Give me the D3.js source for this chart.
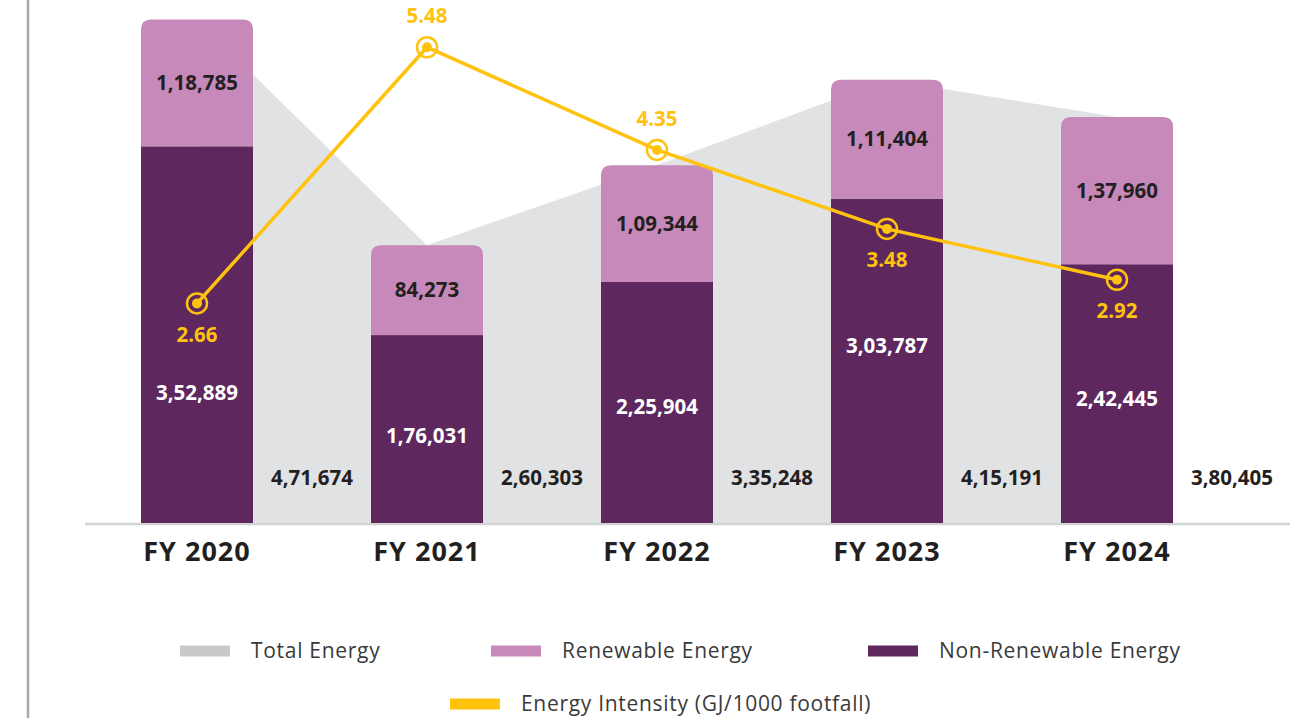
<!DOCTYPE html>
<html>
<head>
<meta charset="utf-8">
<script src="https://cdn.jsdelivr.net/npm/d3@7"></script>
<style>
  body { margin: 0; background: #fff; }
  text { font-family: "Open Sans", "DejaVu Sans", sans-serif; }
</style>
</head>
<body>
<div id="chart"></div>
<script>
// chart data
var years = ["FY 2020", "FY 2021", "FY 2022", "FY 2023", "FY 2024"];
var renewable = [118785, 84273, 109344, 111404, 137960];
var nonRenewable = [352889, 176031, 225904, 303787, 242445];
var totalEnergy = [471674, 260303, 335248, 415191, 380405];
var intensity = [2.66, 5.48, 4.35, 3.48, 2.92];

// where the intensity label sits: above (-1) or below (1) the point
var intensitySide = [1, -1, -1, 1, 1];

var svgWidth = 1290, svgHeight = 718;
var baseY = 523;

var colors = {
  total: "#e1e2e4",
  renewable: "#c689ba",
  nonRenewable: "#5e275d",
  intensity: "#ffc20e",
  text: "#231f20"
};

var svg = d3.select("#chart")
  .append("svg")
  .attr("width", svgWidth)
  .attr("height", svgHeight);

// scales
var xScale = d3.scaleBand()
  .domain(years)
  .range([82, 1232])
  .paddingInner(0.513)
  .paddingOuter(0.2565);

var yScale = d3.scaleLinear()
  .domain([0, 490000])
  .range([baseY, 0]);

var y2Scale = d3.scaleLinear()
  .domain([0, 6])
  .range([545, 0]);

var bw = xScale.bandwidth();
var cx = d => xScale(d) + bw / 2;

var rows = years.map((y, i) => ({
  year: y,
  ren: renewable[i],
  non: nonRenewable[i],
  total: totalEnergy[i],
  inten: intensity[i],
  side: intensitySide[i]
}));

// indian digit grouping, e.g. 4,71,674
function indian(v) {
  var s = String(v);
  var last3 = s.slice(-3), rest = s.slice(0, -3);
  if (!rest) return last3;
  return rest.replace(/\B(?=(\d{2})+(?!\d))/g, ",") + "," + last3;
}

// left border line
svg.append("line")
  .attr("x1", 28).attr("x2", 28)
  .attr("y1", 0).attr("y2", svgHeight)
  .attr("stroke", "#a7a9ac")
  .attr("stroke-width", 2.5);

// total energy area behind the bars
var area = d3.area()
  .x(d => cx(d.year))
  .y0(baseY)
  .y1(d => yScale(d.total));

svg.append("path")
  .datum(rows)
  .attr("d", area)
  .attr("fill", colors.total);

// baseline
svg.append("line")
  .attr("x1", 85).attr("x2", svgWidth)
  .attr("y1", baseY + 1).attr("y2", baseY + 1)
  .attr("stroke", "#d1d3d4")
  .attr("stroke-width", 2.5);

// non-renewable segment
svg.selectAll(".nonren")
  .data(rows)
  .enter()
  .append("rect")
  .attr("class", "nonren")
  .attr("x", d => xScale(d.year))
  .attr("y", d => yScale(d.non))
  .attr("width", bw)
  .attr("height", d => baseY - yScale(d.non))
  .attr("fill", colors.nonRenewable);

// renewable segment with rounded top
var r = 10;
svg.selectAll(".ren")
  .data(rows)
  .enter()
  .append("path")
  .attr("class", "ren")
  .attr("d", function(d) {
    var x0 = xScale(d.year), x1 = x0 + bw;
    var yt = yScale(d.non + d.ren), yb = yScale(d.non);
    return `M${x0},${yb} L${x0},${yt + r} Q${x0},${yt} ${x0 + r},${yt}` +
      ` L${x1 - r},${yt} Q${x1},${yt} ${x1},${yt + r} L${x1},${yb} Z`;
  })
  .attr("fill", colors.renewable);

var labelSize = 20.5;

// renewable labels
svg.selectAll(".renLabel")
  .data(rows)
  .enter()
  .append("text")
  .attr("x", d => cx(d.year))
  .attr("y", d => (yScale(d.non + d.ren) + yScale(d.non)) / 2)
  .attr("dy", "0.35em")
  .attr("text-anchor", "middle")
  .attr("font-size", labelSize)
  .attr("font-weight", 700)
  .attr("fill", colors.text)
  .text(d => indian(d.ren));

// non-renewable labels, the first nudged down to clear the intensity label
var nonShift = [58, 7, 4, -15, 5];
svg.selectAll(".nonLabel")
  .data(rows)
  .enter()
  .append("text")
  .attr("x", d => cx(d.year))
  .attr("y", (d, i) => (yScale(d.non) + baseY) / 2 + nonShift[i])
  .attr("dy", "0.35em")
  .attr("text-anchor", "middle")
  .attr("font-size", labelSize)
  .attr("font-weight", 700)
  .attr("fill", "#ffffff")
  .text(d => indian(d.non));

// total labels
svg.selectAll(".totLabel")
  .data(rows)
  .enter()
  .append("text")
  .attr("x", d => cx(d.year) + 115)
  .attr("y", 478)
  .attr("dy", "0.35em")
  .attr("text-anchor", "middle")
  .attr("font-size", labelSize)
  .attr("font-weight", 700)
  .attr("fill", colors.text)
  .text(d => indian(d.total));

// energy intensity line
var line = d3.line()
  .x(d => cx(d.year))
  .y(d => y2Scale(d.inten));

svg.append("path")
  .datum(rows)
  .attr("d", line)
  .attr("fill", "none")
  .attr("stroke", colors.intensity)
  .attr("stroke-width", 3.5);

var marks = svg.selectAll(".mark")
  .data(rows)
  .enter()
  .append("g")
  .attr("transform", d => `translate(${cx(d.year)},${y2Scale(d.inten)})`);

marks.append("circle")
  .attr("r", 10)
  .attr("fill", "none")
  .attr("stroke", colors.intensity)
  .attr("stroke-width", 2.5);

marks.append("circle")
  .attr("r", 5)
  .attr("fill", colors.intensity);

marks.append("text")
  .attr("y", d => d.side * 31)
  .attr("dy", "0.35em")
  .attr("text-anchor", "middle")
  .attr("font-size", labelSize)
  .attr("font-weight", 700)
  .attr("fill", colors.intensity)
  .text(d => d.inten.toFixed(2));

// category axis labels
svg.selectAll(".cat")
  .data(years)
  .enter()
  .append("text")
  .attr("x", d => cx(d))
  .attr("y", 552)
  .attr("dy", "0.35em")
  .attr("text-anchor", "middle")
  .attr("font-size", 27)
  .attr("font-weight", 700)
  .attr("letter-spacing", 1)
  .attr("fill", colors.text)
  .text(d => d);

// legend
var legendItems = [
  { label: "Total Energy", color: "#c8c9cb", x: 180, y: 651 },
  { label: "Renewable Energy", color: colors.renewable, x: 491, y: 651 },
  { label: "Non-Renewable Energy", color: colors.nonRenewable, x: 868, y: 651 },
  { label: "Energy Intensity (GJ/1000 footfall)", color: colors.intensity, x: 450, y: 704 }
];

var legend = svg.selectAll(".legend")
  .data(legendItems)
  .enter()
  .append("g")
  .attr("transform", d => `translate(${d.x},${d.y})`);

legend.append("rect")
  .attr("x", 0)
  .attr("y", -5.5)
  .attr("width", 50)
  .attr("height", 11)
  .attr("fill", d => d.color);

legend.append("text")
  .attr("x", 71)
  .attr("dy", "0.35em")
  .attr("font-size", 21)
  .attr("letter-spacing", 0.7)
  .attr("fill", "#3a3a3a")
  .text(d => d.label);
</script>
</body>
</html>
